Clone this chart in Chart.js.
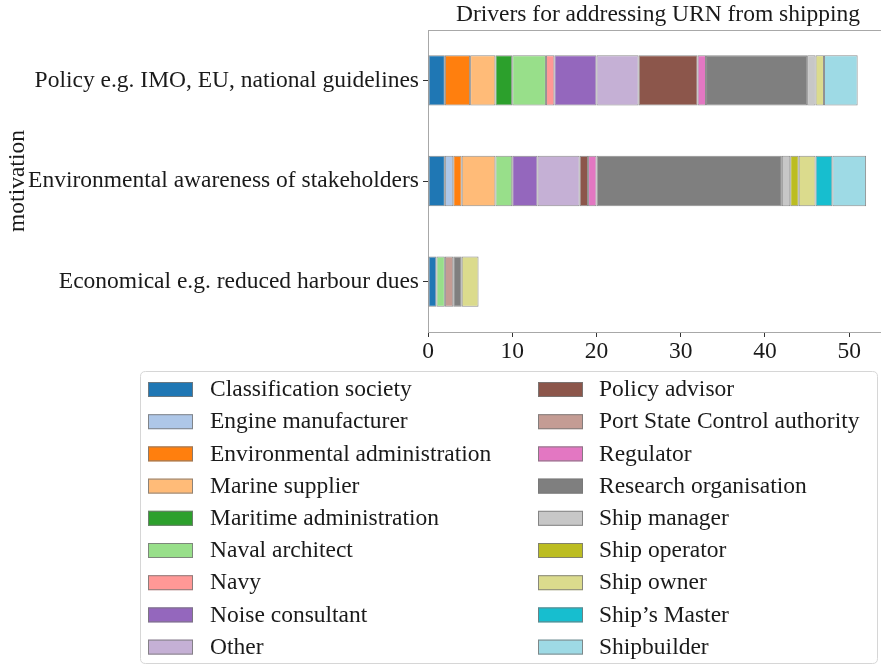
<!DOCTYPE html>
<html>
<head>
<meta charset="utf-8">
<script src="https://cdn.jsdelivr.net/npm/chart.js@4/dist/chart.umd.min.js"></script>
<style>
  html, body { margin: 0; padding: 0; background: #fff; overflow: hidden; }
  #wrap { width: 890px; height: 666px; }
</style>
</head>
<body>
<div id="wrap"><canvas id="c" width="890" height="666"></canvas></div>
<script>
// Survey answers: how many respondents of each role named each driver.
const categories = [
  'Policy e.g. IMO, EU, national guidelines',
  'Environmental awareness of stakeholders',
  'Economical e.g. reduced harbour dues'
];

const roles = [
  'Classification society', 'Engine manufacturer', 'Environmental administration',
  'Marine supplier', 'Maritime administration', 'Naval architect', 'Navy',
  'Noise consultant', 'Other', 'Policy advisor', 'Port State Control authority',
  'Regulator', 'Research organisation', 'Ship manager', 'Ship operator',
  'Ship owner', 'Ship\u2019s Master', 'Shipbuilder'
];

const roleColours = [
  '#1f77b4', '#aec7e8', '#ff7f0e', '#ffbb78', '#2ca02c', '#98df8a', '#ff9896',
  '#9467bd', '#c5b0d5', '#8c564b', '#c49c94', '#e377c2', '#7f7f7f', '#c7c7c7',
  '#bcbd22', '#dbdb8d', '#17becf', '#9edae5'
];

// counts per role, in the order of `roles`
const policyCounts      = [2, 0, 3, 3, 2, 4, 1, 5, 5, 7, 0, 1, 12, 1, 0, 1, 0, 4];
const environmentCounts = [2, 1, 1, 4, 0, 2, 0, 3, 5, 1, 0, 1, 22, 1, 1, 2, 2, 4];
const economicCounts    = [1, 0, 0, 0, 0, 1, 0, 0, 0, 0, 1, 0, 1, 0, 0, 2, 0, 0];

const xTicks = [0, 10, 20, 30, 40, 50];
const chartTitle = 'Drivers for addressing URN from shipping';
const yAxisTitle = 'motivation';

const FONT = '"Liberation Serif", "Times New Roman", serif';
const FONT_SIZE = 23.5;
const TEXT = '#1a1a1a';

const datasets = roles.map((role, i) => ({
  label: role,
  data: [policyCounts[i], environmentCounts[i], economicCounts[i]],
  backgroundColor: roleColours[i],
  borderColor: 'rgba(120,120,120,0.85)',
  borderWidth: 1,
  borderSkipped: false,
  barPercentage: 0.5,
  categoryPercentage: 1.0
}));

// Title, axes frame and the two-column key are painted after the chart itself.
const decorations = {
  id: 'decorations',
  afterDraw(chart) {
    const ctx = chart.ctx;
    const a = chart.chartArea;
    ctx.save();

    // frame: top and right edges
    ctx.strokeStyle = '#a8a8a8';
    ctx.lineWidth = 1;
    ctx.beginPath();
    ctx.moveTo(a.left, a.top + 0.5);
    ctx.lineTo(a.right, a.top + 0.5);
    ctx.moveTo(a.right - 0.5, a.top);
    ctx.lineTo(a.right - 0.5, a.bottom);
    ctx.stroke();

    // title centred over the plot area
    ctx.fillStyle = TEXT;
    ctx.font = FONT_SIZE + 'px ' + FONT;
    ctx.textAlign = 'center';
    ctx.textBaseline = 'middle';
    ctx.fillText(chartTitle, (a.left + a.right) / 2, 15);

    // key box
    const bx = 140.5, by = 371.5, bw = 737, bh = 292, r = 5;
    ctx.beginPath();
    ctx.moveTo(bx + r, by);
    ctx.lineTo(bx + bw - r, by);
    ctx.quadraticCurveTo(bx + bw, by, bx + bw, by + r);
    ctx.lineTo(bx + bw, by + bh - r);
    ctx.quadraticCurveTo(bx + bw, by + bh, bx + bw - r, by + bh);
    ctx.lineTo(bx + r, by + bh);
    ctx.quadraticCurveTo(bx, by + bh, bx, by + bh - r);
    ctx.lineTo(bx, by + r);
    ctx.quadraticCurveTo(bx, by, bx + r, by);
    ctx.closePath();
    ctx.fillStyle = 'rgba(255,255,255,0.9)';
    ctx.fill();
    ctx.strokeStyle = '#d6d6d6';
    ctx.stroke();

    // key entries, nine per column
    const perCol = 9;
    const colPatchX = [148, 538];
    const colTextX = [210, 599];
    ctx.textAlign = 'left';
    ctx.textBaseline = 'middle';
    chart.data.datasets.forEach((ds, i) => {
      const col = Math.floor(i / perCol);
      const row = i % perCol;
      const cy = 389 + row * 32.2;
      ctx.fillStyle = ds.backgroundColor;
      ctx.fillRect(colPatchX[col], cy - 7, 45, 15);
      ctx.strokeStyle = 'rgba(120,120,120,0.85)';
      ctx.strokeRect(colPatchX[col] + 0.5, cy - 6.5, 44, 14);
      ctx.fillStyle = TEXT;
      ctx.font = FONT_SIZE + 'px ' + FONT;
      ctx.fillText(ds.label, colTextX[col], cy + 1);
    });

    ctx.restore();
  }
};

new Chart(document.getElementById('c'), {
  type: 'bar',
  data: { labels: categories, datasets },
  plugins: [decorations],
  options: {
    indexAxis: 'y',
    responsive: false,
    animation: false,
    devicePixelRatio: 1,
    layout: { padding: { top: 30, right: 2, bottom: 300, left: 0 } },
    plugins: {
      legend: { display: false },
      title: { display: false },
      tooltip: { enabled: false }
    },
    scales: {
      x: {
        stacked: true,
        min: 0,
        max: 54.6,
        afterBuildTicks(scale) { scale.ticks = xTicks.map(v => ({ value: v })); },
        afterFit(scale) { scale.height = 34; },
        ticks: { color: TEXT, font: { family: FONT, size: FONT_SIZE }, padding: 1, maxRotation: 0 },
        grid: { drawOnChartArea: false, drawTicks: true, tickLength: 5, color: '#333', tickWidth: 1 },
        border: { display: true, color: '#a8a8a8', width: 1 }
      },
      y: {
        stacked: true,
        afterFit(scale) { scale.width = 428; },
        ticks: { color: TEXT, font: { family: FONT, size: FONT_SIZE }, padding: 4 },
        grid: { drawOnChartArea: false, drawTicks: true, tickLength: 5, color: '#333', tickWidth: 1, offset: false },
        border: { display: true, color: '#a8a8a8', width: 1 },
        title: { display: true, text: yAxisTitle, color: TEXT, font: { family: FONT, size: FONT_SIZE }, padding: { top: 4, bottom: 0 } }
      }
    }
  }
});
</script>
</body>
</html>
